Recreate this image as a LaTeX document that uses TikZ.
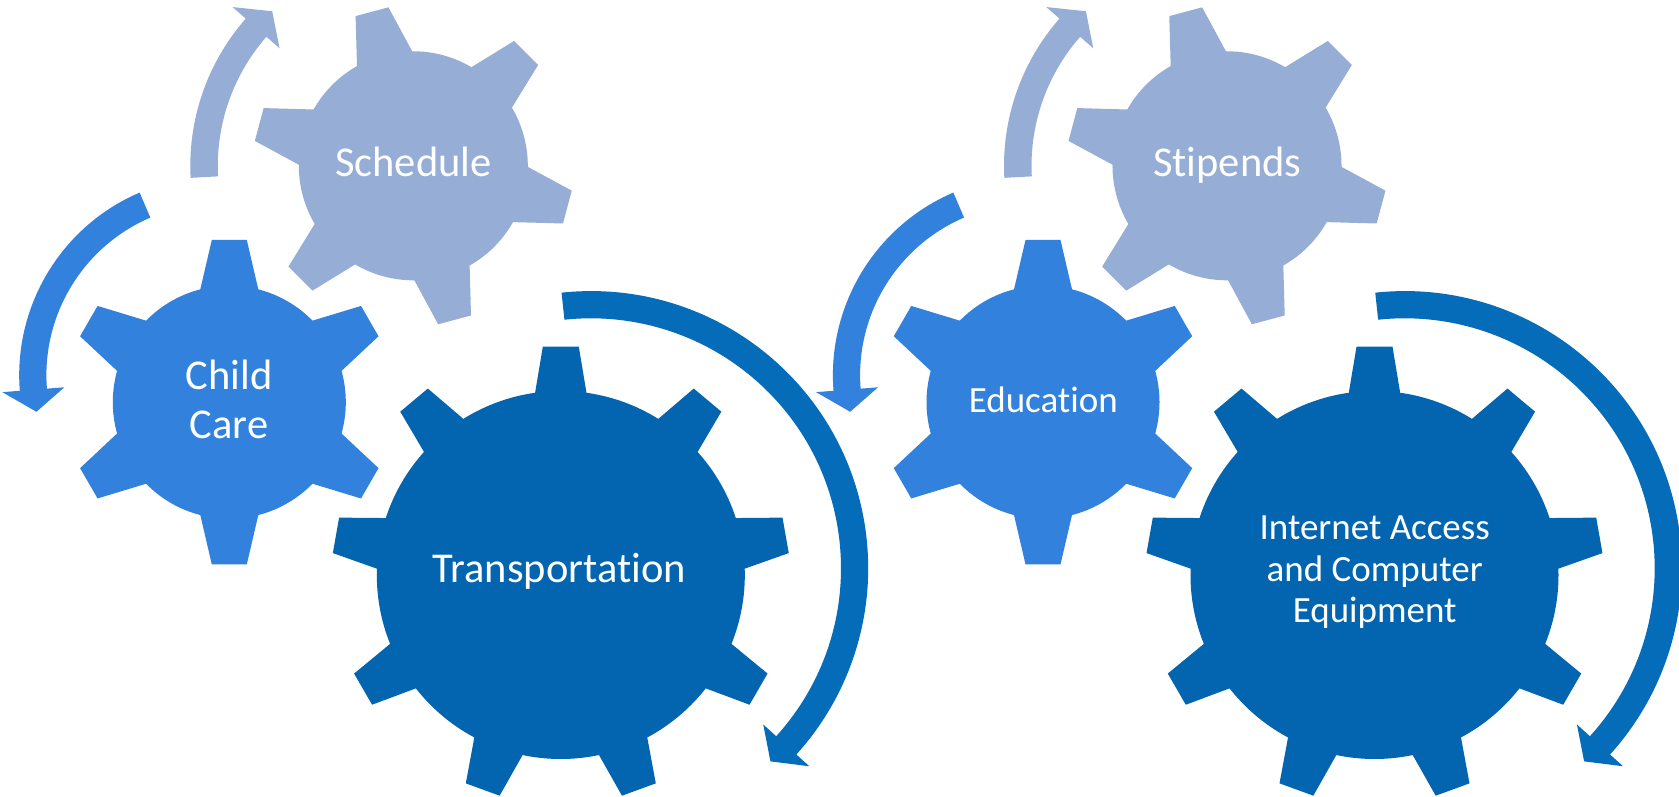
\documentclass[tikz,border=0pt]{standalone}
\usepackage{fontspec}
\setmainfont{Carlito}[Ligatures=CommonOff]
\definecolor{lightgear}{RGB}{150,173,214}
\definecolor{midgear}{RGB}{50,130,221}
\definecolor{darkgear}{RGB}{3,101,175}
\definecolor{darkarrow}{RGB}{4,108,184}
% gear: cx, cy, teeth, Rtip, Rbody, tipwidth, basewidth, rotation, colour
\newcommand{\drawgear}[9]{%
  \begin{scope}[shift={(#1,#2)}, rotate=#8]
    \fill[#9] (0,0) circle (#5pt);
    \pgfmathsetmacro\gearhb{#7/2}%
    \pgfmathsetmacro\gearht{#6/2}%
    \pgfmathsetmacro\gearxb{#5*cos(asin(\gearhb/#5))-0.6}%
    \foreach \k in {1,...,#3} {
      \pgfmathsetmacro\gearang{90+360*(\k-1)/#3}
      \fill[#9, rotate=\gearang] (\gearxb pt,-\gearhb pt) -- (#4pt,-\gearht pt) -- (#4pt,\gearht pt) -- (\gearxb pt,\gearhb pt) -- cycle;
    }
  \end{scope}}
% circular arrow: cx, cy, Rin, Rout, start, shaft end, tip angle, barb ext, colour
\newcommand{\circarrow}[9]{%
  \begin{scope}[shift={(#1,#2)}]
    \pgfmathsetmacro\arrmid{(#3+#4)/2}%
    \pgfmathsetmacro\arrout{#4+#8}%
    \pgfmathsetmacro\arrin{#3-#8}%
    \fill[#9] (#5:#4pt) arc[start angle=#5, end angle=#6, radius=#4pt]
      -- (#6:\arrout pt) -- (#7:\arrmid pt) -- (#6:\arrin pt) -- (#6:#3pt)
      arc[start angle=#6, end angle=#5, radius=#3pt] -- cycle;
  \end{scope}}
\tikzset{
  gearlabel/.style={text=white, inner sep=0pt, anchor=base},
  bigtext/.style={gearlabel, font=\fontsize{42.5}{48}\selectfont},
  smalltext/.style={gearlabel, font=\fontsize{37}{41}\selectfont},
}
\begin{document}
\begin{tikzpicture}[x=1pt,y=1pt]
\useasboundingbox (0,0) rectangle (1679,796);
\fill[white] (0,0) rectangle (1679,796);
\begin{scope}
\clip (0,0) rectangle (1679,796);
% ---------- left group ----------
\drawgear{413.3}{630.2}{6}{159.5}{114.5}{34}{57.5}{15}{lightgear}
\drawgear{229.3}{393.8}{6}{162.2}{116.5}{35}{58.3}{0}{midgear}
\drawgear{560.8}{221}{9}{228.3}{184}{36}{51.6}{0}{darkgear}
\circarrow{413.3}{630.2}{195.5}{223}{183.1}{138.7}{132.4}{17.5}{lightgear}
\circarrow{217.9}{420.8}{171.5}{198.7}{113.2}{184.5}{191.4}{17.5}{midgear}
\circarrow{591}{227.7}{250}{277.2}{96.1}{-42.2}{-47.1}{17.5}{darkarrow}
% ---------- right group ----------
\drawgear{1227}{630.2}{6}{159.5}{114.5}{34}{57.5}{15}{lightgear}
\drawgear{1043}{393.8}{6}{162.2}{116.5}{35}{58.3}{0}{midgear}
\drawgear{1374.5}{221}{9}{228.3}{184}{36}{51.6}{0}{darkgear}
\circarrow{1227}{630.2}{195.5}{223}{183.1}{138.7}{132.4}{17.5}{lightgear}
\circarrow{1031.6}{420.8}{171.5}{198.7}{113.2}{184.5}{191.4}{17.5}{midgear}
\circarrow{1404.7}{227.7}{250}{277.2}{96.1}{-42.2}{-47.1}{17.5}{darkarrow}
\end{scope}
% ---------- labels ----------
\node[bigtext] (schedule) at (413.3,619.3) {Schedule};
\node[bigtext] (child) at (229,406) {Child};
\node[bigtext] (care) at (229,357.7) {Care};
\node[bigtext] (transport) at (559.2,213.3) {Transportation};
\node[bigtext] (stipends) at (1227.3,619.3) {Stipends};
\node[smalltext] (education) at (1043.3,383.3) {Education};
\node[smalltext] (internet1) at (1374.7,256) {Internet Access};
\node[smalltext] (internet2) at (1374.7,214.3) {and Computer};
\node[smalltext] (internet3) at (1374.7,173.3) {Equipment};
\end{tikzpicture}
\end{document}
